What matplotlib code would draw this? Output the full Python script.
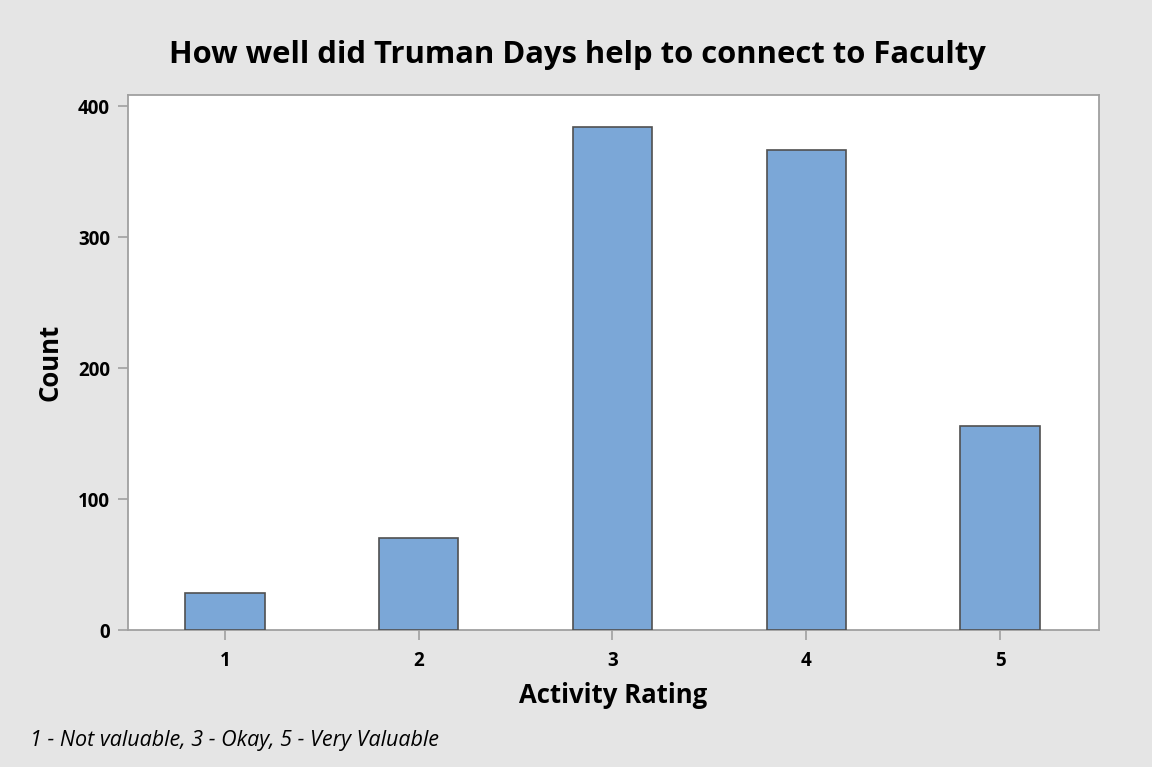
import numpy as np
import matplotlib
matplotlib.use('Agg')
import matplotlib.pyplot as plt

# survey responses
ratings = ['1', '2', '3', '4', '5']
counts = [28, 70, 384, 367, 156]
yticks = [0, 100, 200, 300, 400]

BG = '#e5e5e5'
BAR = '#7ba7d7'
AXIS = '#a0a0a0'

plt.rcParams['font.family'] = ['Open Sans', 'DejaVu Sans']

fig = plt.figure(figsize=(11.52, 7.67), dpi=100, facecolor=BG)
ax = fig.add_axes([0.111, 0.1786, 0.843, 0.6974])
ax.set_facecolor('white')

x = np.arange(1, len(ratings) + 1)
ax.bar(x, counts, width=0.41, color=BAR, edgecolor='#505050', linewidth=1.2, zorder=3)

ax.set_xlim(0.5, 5.51)
ax.set_ylim(0, 408.6)
ax.set_xticks(x)
ax.set_xticklabels(ratings)
ax.set_yticks(yticks)

for s in ax.spines.values():
    s.set_color(AXIS)
    s.set_linewidth(1.3)
ax.tick_params(axis='both', colors=AXIS, length=7, width=1.2, labelsize=13.5,
               labelcolor='black')
for lbl in ax.get_xticklabels() + ax.get_yticklabels():
    lbl.set_fontweight('bold')
ax.tick_params(axis='x', pad=8)
ax.tick_params(axis='y', pad=6)

ax.set_xlabel('Activity Rating', fontsize=18.5, fontweight='bold', labelpad=8)
ax.set_ylabel('Count', fontsize=18.5, fontweight='bold', labelpad=10)

fig.text(0.501, 0.928, 'How well did Truman Days help to connect to Faculty',
         ha='center', va='center', fontsize=22.3, fontweight='bold')
fig.text(0.026, 0.035, '1 - Not valuable, 3 - Okay, 5 - Very Valuable',
         ha='left', va='center', fontsize=15.5, style='italic')

fig.savefig('out.png', dpi=100, facecolor=BG)
